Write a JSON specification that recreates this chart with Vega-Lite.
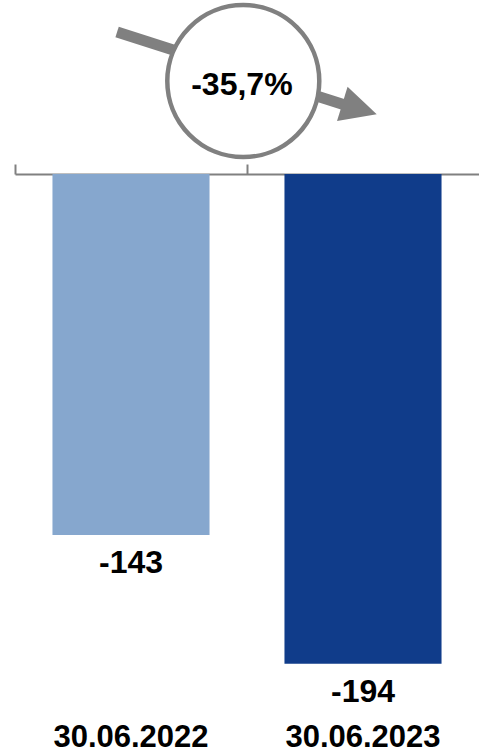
{
  "$schema": "https://vega.github.io/schema/vega-lite/v6.json",
  "width": 464,
  "height": 505,
  "autosize": {"type": "none"},
  "padding": {"left": 15, "top": 174, "right": 0, "bottom": 75},
  "background": "white",
  "config": {"view": {"stroke": null}, "font": "Liberation Sans"},
  "datasets": {
    "bars": [
      {"date": "30.06.2022", "value": -143},
      {"date": "30.06.2023", "value": -194}
    ],
    "arrow": [{"x": 0.44, "y": 56.2, "x2": 1.422, "y2": 27.3}],
    "head": [{"x": 1.485, "y": 25.7}],
    "badge": [{"x": 0.984, "y": 36.8, "tx": 0.978, "ty": 35.2, "label": "-35,7%"}]
  },
  "layer": [
    {
      "data": {"name": "bars"},
      "layer": [
        {
          "mark": {"type": "bar", "width": {"band": 0.677}},
          "encoding": {
            "x": {
              "field": "date", "type": "nominal", "sort": null,
              "scale": {"paddingInner": 0, "paddingOuter": 0},
              "axis": {"orient": "top", "labels": false, "title": null, "grid": false,
                       "domainColor": "#808080", "domainWidth": 2,
                       "tickColor": "#808080", "tickWidth": 2, "tickSize": 10, "bandPosition": 0}
            },
            "y": {"field": "value", "type": "quantitative",
                  "scale": {"domain": [-200, 0], "nice": false, "zero": false}, "axis": null},
            "color": {"field": "date", "type": "nominal",
                      "scale": {"domain": ["30.06.2022", "30.06.2023"], "range": ["#86A7CE", "#103C8A"]},
                      "legend": null}
          }
        },
        {
          "mark": {"type": "text", "baseline": "middle", "align": "center", "dy": 28,
                   "fontSize": 32, "fontWeight": "bold", "color": "black"},
          "encoding": {
            "x": {
              "field": "date", "type": "nominal", "sort": null,
              "axis": {"orient": "bottom", "domain": false, "ticks": false, "title": null, "grid": false,
                       "labelFont": "Liberation Sans", "labelFontSize": 31, "labelFontWeight": "bold",
                       "labelColor": "black", "labelPadding": 43, "labelAngle": 0}
            },
            "y": {"field": "value", "type": "quantitative",
                  "scale": {"domain": [-200, 0], "nice": false, "zero": false}, "axis": null},
            "text": {"field": "value", "type": "nominal"}
          }
        }
      ],
      "resolve": {"axis": {"x": "independent"}}
    },
    {
      "layer": [
        {
          "data": {"name": "arrow"},
          "mark": {"type": "rule", "strokeWidth": 11, "color": "#808080", "strokeCap": "butt"},
          "encoding": {
            "x": {"field": "x", "type": "quantitative", "scale": {"domain": [0, 2], "nice": false, "zero": false}, "axis": null},
            "x2": {"field": "x2"},
            "y": {"field": "y", "type": "quantitative", "scale": {"domain": [-200, 0], "nice": false, "zero": false}, "axis": null},
            "y2": {"field": "y2"}
          }
        },
        {
          "data": {"name": "head"},
          "mark": {"type": "point", "shape": "M-1,-1L1,0L-1,1Z", "size": 1296, "angle": 17,
                   "filled": true, "color": "#808080", "opacity": 1},
          "encoding": {
            "x": {"field": "x", "type": "quantitative", "scale": {"domain": [0, 2], "nice": false, "zero": false}, "axis": null},
            "y": {"field": "y", "type": "quantitative", "scale": {"domain": [-200, 0], "nice": false, "zero": false}, "axis": null}
          }
        },
        {
          "data": {"name": "badge"},
          "mark": {"type": "point", "shape": "circle", "size": 23104, "filled": true,
                   "fill": "white", "stroke": "#808080", "strokeWidth": 4.5, "opacity": 1},
          "encoding": {
            "x": {"field": "x", "type": "quantitative", "scale": {"domain": [0, 2], "nice": false, "zero": false}, "axis": null},
            "y": {"field": "y", "type": "quantitative", "scale": {"domain": [-200, 0], "nice": false, "zero": false}, "axis": null}
          }
        },
        {
          "data": {"name": "badge"},
          "mark": {"type": "text", "baseline": "middle", "align": "center",
                   "fontSize": 32, "fontWeight": "bold", "color": "black"},
          "encoding": {
            "x": {"field": "tx", "type": "quantitative", "scale": {"domain": [0, 2], "nice": false, "zero": false}, "axis": null},
            "y": {"field": "ty", "type": "quantitative", "scale": {"domain": [-200, 0], "nice": false, "zero": false}, "axis": null},
            "text": {"field": "label", "type": "nominal"}
          }
        }
      ]
    }
  ],
  "resolve": {"scale": {"x": "independent"}, "axis": {"x": "independent"}}
}
